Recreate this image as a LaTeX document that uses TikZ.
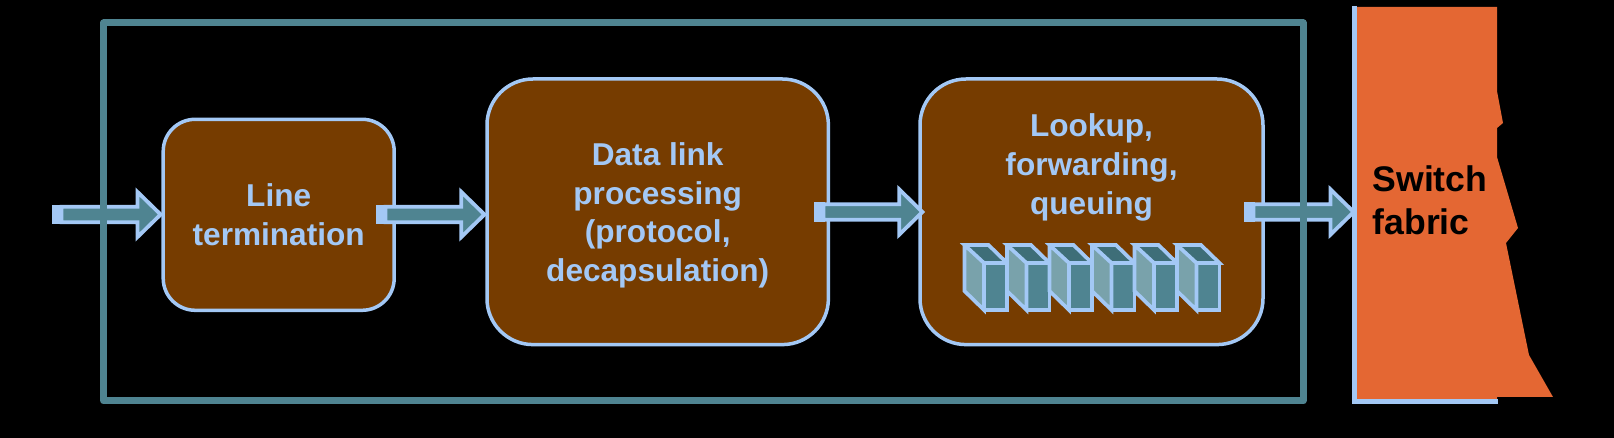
\documentclass[tikz,border=0pt]{standalone}
\usepackage{fontspec}
\setmainfont{Liberation Sans}
\usetikzlibrary{positioning,calc}
\definecolor{edgeblue}{HTML}{A3C8F5}
\definecolor{boxbrown}{HTML}{763C00}
\definecolor{flowteal}{HTML}{4F8491}
\definecolor{sideteal}{HTML}{79A2AB}
\definecolor{topteal}{HTML}{3E6E78}
\definecolor{fabricorange}{HTML}{E46733}
\tikzset{
	stagebox/.style={draw=edgeblue, fill=boxbrown, line width=1.75pt, inner sep=0pt, align=center,
		text=edgeblue, font=\fontsize{15.8}{19.3}\selectfont\bfseries},
	stagetext/.style={inner sep=0pt, align=center, text=edgeblue, font=\fontsize{15.8}{19.3}\selectfont\bfseries},
	tailblock/.style={fill=edgeblue, minimum width=5.5pt, minimum height=9.7pt, inner sep=0pt},
	flowline/.style={draw=edgeblue, fill=flowteal, line width=1.9pt, to path={
		let \p1=(\tikztostart), \p2=(\tikztotarget) in
		(\x1+2pt,\y1+3.9pt) -- (\x2-12pt,\y1+3.9pt) -- (\x2-12pt,\y1+11.3pt) -- (\x2-0.4pt,\y1)
		-- (\x2-12pt,\y1-11.3pt) -- (\x2-12pt,\y1-3.9pt) -- (\x1+2pt,\y1-3.9pt) -- cycle}},
	cardline/.style={draw=edgeblue, line width=1.85pt, line join=miter}
}

\begin{document}
\begin{tikzpicture}[x=0.5pt, y=-0.5pt]
	\fill[black] (0, 0) rectangle (1614, 438);

	% switch fabric
	\fill[fabricorange] (1355, 7) -- (1497, 7) -- (1497, 91) -- (1503, 123) -- (1497, 128) -- (1497, 157)
		-- (1518, 228) -- (1506, 243) -- (1529, 355) -- (1553, 397) -- (1497, 397) -- (1497, 401) -- (1355, 401) -- cycle;
	\draw[edgeblue, line width=2.6pt] (1354.5, 6) -- (1354.5, 401.5) -- (1498, 401.5);
	\node[align=left, inner sep=0pt, font=\fontsize{17.8}{21.6}\selectfont\bfseries] (fabric) at (1430, 200) {Switch\\fabric};
	\coordinate (fabricin) at (1354.5, 212);

	% stages
	\node[stagebox, rounded corners=16pt, minimum width=115.5pt, minimum height=95.5pt] (line) at (278.7, 214.8) {Line\\termination};
	\node[stagebox, rounded corners=23pt, minimum width=170.7pt, minimum height=132.8pt] (datalink) at (657.7, 211.8) {};
	\node[stagetext] (datatext) at (657.7, 215.5) {Data link\\processing\\(protocol,\\decapsulation)};
	\node[stagebox, rounded corners=23pt, minimum width=171.5pt, minimum height=132.8pt] (lookup) at (1091.5, 211.8) {};
	\node[stagetext] (lookuptext) at (1091.5, 167.5) {Lookup,\\forwarding,\\queuing};

	% queue of cells
	\foreach \i in {0,...,5} {
		\begin{scope}[shift={(984+42.5*\i, 263)}]
			\fill[sideteal] (0, 0) -- (-19.5, -18) -- (-19.5, 28) -- (0, 47) -- cycle;
			\fill[topteal] (0, 0) -- (-19.5, -18) -- (4.5, -18) -- (23, 0) -- cycle;
			\fill[flowteal] (0, 0) rectangle (23, 47);
			\draw[cardline] (0, 0) -- (-19.5, -18) -- (4.5, -18) -- (23, 0) -- (0, 0) -- (0, 47) -- (-19.5, 28) -- (-19.5, -18);
			\draw[cardline] (23, 0) -- (23, 47) -- (0, 47);
		\end{scope}
	}

	% arrows
	\node[tailblock] (tailin) at (57.5, 214.5) {};
	\node[tailblock] (tailline) at (381.5, 214.5) {};
	\node[tailblock] (taildata) at (819.5, 212) {};
	\node[tailblock] (taillookup) at (1249.5, 212) {};
	\draw[flowline] (tailin.center) to (line.west);
	\draw[flowline] (tailline.center) to (datalink.west);
	\draw[flowline] (taildata.center) to ([xshift=2.5pt]lookup.west);
	\draw[flowline] (taillookup.center) to (fabricin);

	% enclosing frame
	\node[draw=flowteal, line width=3.5pt, line join=round, minimum width=599.6pt, minimum height=189pt, inner sep=0pt] (card) at (703.4, 212) {};
\end{tikzpicture}
\end{document}
